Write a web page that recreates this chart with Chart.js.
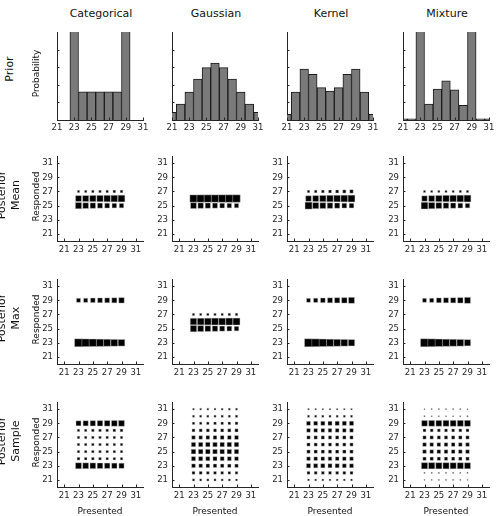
<!DOCTYPE html>
<html>
<head>
<meta charset="utf-8">
<script src="https://cdn.jsdelivr.net/npm/chart.js@4/dist/chart.umd.min.js"></script>
<style>
  body { margin: 0; background: #fff; }
  #fig { position: relative; width: 500px; height: 516px; overflow: hidden; font-family: "DejaVu Sans", sans-serif; color: #111; }
  #fig canvas { position: absolute; }
  .lbl { position: absolute; white-space: nowrap; text-align: center; }
</style>
</head>
<body>
<div id="fig"></div>
<script>
// prior probability over the presented values 21..31
const priorValues = [21, 22, 23, 24, 25, 26, 27, 28, 29, 30, 31];
const priorCategorical = [0, 0, 0.3, 0.08, 0.08, 0.08, 0.08, 0.08, 0.3, 0, 0];
const priorGaussian = [0.022, 0.045, 0.079, 0.116, 0.149, 0.162, 0.149, 0.116, 0.079, 0.045, 0.022];
const priorKernel = [0.016, 0.079, 0.145, 0.13, 0.092, 0.082, 0.092, 0.13, 0.145, 0.079, 0.016];
const priorMixture = [0.003, 0.003, 0.3, 0.045, 0.088, 0.111, 0.086, 0.042, 0.3, 0.003, 0.003];

// response frequencies: rows = responded (31 down to 21), columns = presented 23..29
const presented = [23, 24, 25, 26, 27, 28, 29];
const responded = [31, 30, 29, 28, 27, 26, 25, 24, 23, 22, 21];
const tickValues = [21, 23, 25, 27, 29, 31];

const meanCategorical = [
  [0, 0, 0, 0, 0, 0, 0],
  [0, 0, 0, 0, 0, 0, 0],
  [0, 0, 0, 0, 0, 0, 0],
  [0, 0, 0, 0, 0, 0, 0],
  [0.07, 0.07, 0.08, 0.08, 0.08, 0.09, 0.09],
  [0.44, 0.47, 0.5, 0.52, 0.54, 0.56, 0.58],
  [0.5, 0.42, 0.38, 0.33, 0.3, 0.27, 0.25],
  [0, 0, 0, 0, 0, 0, 0],
  [0, 0, 0, 0, 0, 0, 0],
  [0, 0, 0, 0, 0, 0, 0],
  [0, 0, 0, 0, 0, 0, 0],
];
const meanGaussian = [
  [0, 0, 0, 0, 0, 0, 0],
  [0, 0, 0, 0, 0, 0, 0],
  [0, 0, 0, 0, 0, 0, 0],
  [0, 0, 0, 0, 0, 0, 0],
  [0, 0, 0, 0, 0, 0, 0],
  [0.68, 0.69, 0.7, 0.7, 0.71, 0.72, 0.72],
  [0.44, 0.39, 0.35, 0.33, 0.29, 0.26, 0.24],
  [0, 0, 0, 0, 0, 0, 0],
  [0, 0, 0, 0, 0, 0, 0],
  [0, 0, 0, 0, 0, 0, 0],
  [0, 0, 0, 0, 0, 0, 0],
];
const meanKernel = [
  [0, 0, 0, 0, 0, 0, 0],
  [0, 0, 0, 0, 0, 0, 0],
  [0, 0, 0, 0, 0, 0, 0],
  [0, 0, 0, 0, 0, 0, 0],
  [0.08, 0.09, 0.1, 0.11, 0.12, 0.13, 0.15],
  [0.4, 0.45, 0.5, 0.54, 0.56, 0.58, 0.6],
  [0.62, 0.48, 0.44, 0.39, 0.35, 0.3, 0.28],
  [0, 0, 0, 0, 0, 0, 0],
  [0, 0, 0, 0, 0, 0, 0],
  [0, 0, 0, 0, 0, 0, 0],
  [0, 0, 0, 0, 0, 0, 0],
];
const meanMixture = [
  [0, 0, 0, 0, 0, 0, 0],
  [0, 0, 0, 0, 0, 0, 0],
  [0, 0, 0, 0, 0, 0, 0],
  [0, 0, 0, 0, 0, 0, 0],
  [0.06, 0.06, 0.06, 0.06, 0.06, 0.07, 0.07],
  [0.38, 0.44, 0.5, 0.53, 0.55, 0.57, 0.6],
  [0.58, 0.5, 0.44, 0.39, 0.35, 0.3, 0.26],
  [0, 0, 0, 0, 0, 0, 0],
  [0, 0, 0, 0, 0, 0, 0],
  [0, 0, 0, 0, 0, 0, 0],
  [0, 0, 0, 0, 0, 0, 0],
];
const maxCategorical = [
  [0, 0, 0, 0, 0, 0, 0],
  [0, 0, 0, 0, 0, 0, 0],
  [0.21, 0.22, 0.27, 0.29, 0.3, 0.33, 0.38],
  [0, 0, 0, 0, 0, 0, 0],
  [0, 0, 0, 0, 0, 0, 0],
  [0, 0, 0, 0, 0, 0, 0],
  [0, 0, 0, 0, 0, 0, 0],
  [0, 0, 0, 0, 0, 0, 0],
  [0.8, 0.76, 0.72, 0.68, 0.64, 0.6, 0.56],
  [0, 0, 0, 0, 0, 0, 0],
  [0, 0, 0, 0, 0, 0, 0],
];
const maxGaussian = [
  [0, 0, 0, 0, 0, 0, 0],
  [0, 0, 0, 0, 0, 0, 0],
  [0, 0, 0, 0, 0, 0, 0],
  [0, 0, 0, 0, 0, 0, 0],
  [0.07, 0.07, 0.07, 0.07, 0.07, 0.08, 0.08],
  [0.55, 0.57, 0.58, 0.6, 0.6, 0.62, 0.62],
  [0.52, 0.46, 0.42, 0.38, 0.33, 0.3, 0.26],
  [0, 0, 0, 0, 0, 0, 0],
  [0, 0, 0, 0, 0, 0, 0],
  [0, 0, 0, 0, 0, 0, 0],
  [0, 0, 0, 0, 0, 0, 0],
];
const maxKernel = [
  [0, 0, 0, 0, 0, 0, 0],
  [0, 0, 0, 0, 0, 0, 0],
  [0.2, 0.23, 0.28, 0.32, 0.35, 0.38, 0.45],
  [0, 0, 0, 0, 0, 0, 0],
  [0, 0, 0, 0, 0, 0, 0],
  [0, 0, 0, 0, 0, 0, 0],
  [0, 0, 0, 0, 0, 0, 0],
  [0, 0, 0, 0, 0, 0, 0],
  [0.82, 0.78, 0.72, 0.66, 0.62, 0.58, 0.52],
  [0, 0, 0, 0, 0, 0, 0],
  [0, 0, 0, 0, 0, 0, 0],
];
const maxMixture = [
  [0, 0, 0, 0, 0, 0, 0],
  [0, 0, 0, 0, 0, 0, 0],
  [0.2, 0.22, 0.3, 0.32, 0.34, 0.38, 0.46],
  [0, 0, 0, 0, 0, 0, 0],
  [0, 0, 0, 0, 0, 0, 0],
  [0, 0, 0, 0, 0, 0, 0],
  [0, 0, 0, 0, 0, 0, 0],
  [0, 0, 0, 0, 0, 0, 0],
  [0.82, 0.78, 0.72, 0.66, 0.62, 0.58, 0.5],
  [0, 0, 0, 0, 0, 0, 0],
  [0, 0, 0, 0, 0, 0, 0],
];
const sampleCategorical = [
  [0, 0, 0, 0, 0, 0, 0],
  [0, 0, 0, 0, 0, 0, 0],
  [0.32, 0.34, 0.36, 0.38, 0.4, 0.42, 0.44],
  [0.08, 0.08, 0.09, 0.09, 0.09, 0.1, 0.1],
  [0.08, 0.08, 0.08, 0.08, 0.08, 0.08, 0.08],
  [0.08, 0.08, 0.08, 0.08, 0.08, 0.08, 0.08],
  [0.08, 0.08, 0.08, 0.08, 0.08, 0.08, 0.08],
  [0.1, 0.09, 0.09, 0.09, 0.08, 0.08, 0.08],
  [0.46, 0.44, 0.42, 0.4, 0.38, 0.36, 0.34],
  [0, 0, 0, 0, 0, 0, 0],
  [0, 0, 0, 0, 0, 0, 0],
];
const sampleGaussian = [
  [0.04, 0.04, 0.045, 0.045, 0.045, 0.05, 0.05],
  [0.055, 0.06, 0.06, 0.06, 0.065, 0.065, 0.07],
  [0.08, 0.08, 0.085, 0.09, 0.09, 0.095, 0.1],
  [0.11, 0.115, 0.12, 0.12, 0.125, 0.13, 0.13],
  [0.16, 0.16, 0.17, 0.17, 0.18, 0.18, 0.19],
  [0.24, 0.24, 0.25, 0.25, 0.25, 0.26, 0.26],
  [0.27, 0.27, 0.27, 0.26, 0.26, 0.26, 0.25],
  [0.22, 0.22, 0.21, 0.21, 0.2, 0.2, 0.19],
  [0.18, 0.17, 0.17, 0.16, 0.16, 0.15, 0.15],
  [0.11, 0.11, 0.1, 0.1, 0.1, 0.09, 0.09],
  [0.065, 0.06, 0.06, 0.06, 0.055, 0.055, 0.05],
];
const sampleKernel = [
  [0.03, 0.03, 0.03, 0.03, 0.03, 0.03, 0.03],
  [0.06, 0.06, 0.06, 0.06, 0.06, 0.06, 0.06],
  [0.2, 0.2, 0.21, 0.21, 0.22, 0.22, 0.23],
  [0.17, 0.17, 0.17, 0.17, 0.17, 0.17, 0.17],
  [0.14, 0.14, 0.14, 0.14, 0.14, 0.14, 0.14],
  [0.13, 0.13, 0.13, 0.13, 0.13, 0.13, 0.13],
  [0.14, 0.14, 0.14, 0.14, 0.14, 0.14, 0.14],
  [0.17, 0.17, 0.17, 0.17, 0.17, 0.17, 0.17],
  [0.23, 0.22, 0.22, 0.21, 0.21, 0.2, 0.2],
  [0.11, 0.11, 0.11, 0.11, 0.11, 0.11, 0.11],
  [0.045, 0.045, 0.045, 0.045, 0.045, 0.045, 0.045],
];
const sampleMixture = [
  [0.016, 0.016, 0.016, 0.016, 0.016, 0.016, 0.016],
  [0.02, 0.02, 0.02, 0.02, 0.02, 0.02, 0.02],
  [0.42, 0.44, 0.44, 0.45, 0.45, 0.46, 0.46],
  [0.11, 0.11, 0.11, 0.11, 0.11, 0.11, 0.11],
  [0.14, 0.14, 0.14, 0.14, 0.14, 0.14, 0.14],
  [0.17, 0.17, 0.17, 0.17, 0.17, 0.17, 0.17],
  [0.17, 0.17, 0.17, 0.17, 0.17, 0.17, 0.17],
  [0.14, 0.14, 0.14, 0.14, 0.14, 0.14, 0.14],
  [0.5, 0.5, 0.49, 0.49, 0.48, 0.48, 0.47],
  [0.02, 0.02, 0.02, 0.02, 0.02, 0.02, 0.02],
  [0.016, 0.016, 0.016, 0.016, 0.016, 0.016, 0.016],
];

const models = ['Categorical', 'Gaussian', 'Kernel', 'Mixture'];
const priors = [priorCategorical, priorGaussian, priorKernel, priorMixture];
const posteriorRows = [
  { name: ['Posterior', 'Mean'], data: [meanCategorical, meanGaussian, meanKernel, meanMixture] },
  { name: ['Posterior', 'Max'], data: [maxCategorical, maxGaussian, maxKernel, maxMixture] },
  { name: ['Posterior', 'Sample'], data: [sampleCategorical, sampleGaussian, sampleKernel, sampleMixture] },
];

// layout (plot area corners)
const axLeft = [57, 172, 287, 403];
const axTop = [32, 155, 278, 401];
const axH = [88, 86, 86, 86];
const AX_W = 86, Y_W = 30, X_H = 18, PAD_T = 8, PAD_R = 10;
const INK = '#262626';
const fig = document.getElementById('fig');

function addText(lines, cx, cy, size, rotate, lh) {
  const d = document.createElement('div');
  d.className = 'lbl';
  const w = 200, h = lines.length * lh;
  d.style.cssText = `left:${cx - w / 2}px;top:${cy - h / 2}px;width:${w}px;height:${h}px;` +
    `font-size:${size}px;line-height:${lh}px;` + (rotate ? 'transform:rotate(-90deg);' : '');
  d.innerHTML = lines.join('<br>');
  fig.appendChild(d);
}

// MATLAB style ticks pointing into the plot
const inwardTicks = {
  id: 'inwardTicks',
  afterDraw(chart) {
    const { ctx, chartArea: a, scales: { x, y } } = chart;
    ctx.save();
    ctx.strokeStyle = INK;
    ctx.lineWidth = 1;
    ctx.beginPath();
    x.ticks.forEach(t => {
      const px = Math.round(x.getPixelForValue(t.value)) + 0.5;
      ctx.moveTo(px, a.bottom);
      ctx.lineTo(px, a.bottom - 2.5);
    });
    y.ticks.forEach(t => {
      const py = Math.round(y.getPixelForValue(t.value)) + 0.5;
      ctx.moveTo(a.left, py);
      ctx.lineTo(a.left + 2.5, py);
    });
    ctx.stroke();
    ctx.restore();
  }
};

function axis(min, max, ticks, showLabels, pad, fit) {
  return {
    type: 'linear', min: min, max: max, offset: false,
    grid: { display: false, drawTicks: false, offset: false },
    border: { display: true, color: INK, width: 1 },
    ticks: {
      display: showLabels, padding: pad, color: INK, autoSkip: false, maxRotation: 0,
      font: { family: 'DejaVu Sans', size: 8.5 },
    },
    afterBuildTicks: s => { s.ticks = ticks.map(v => ({ value: v })); },
    afterFit: fit,
  };
}

function makePanel(col, row, config) {
  const canvas = document.createElement('canvas');
  const w = Y_W + AX_W + PAD_R, h = PAD_T + axH[row] + X_H;
  canvas.width = w; canvas.height = h;
  canvas.style.width = w + 'px'; canvas.style.height = h + 'px';
  canvas.style.left = (axLeft[col] - Y_W) + 'px';
  canvas.style.top = (axTop[row] - PAD_T) + 'px';
  fig.appendChild(canvas);
  config.options = Object.assign({
    responsive: false, animation: false, events: [], devicePixelRatio: 1,
    layout: { padding: { left: 0, top: PAD_T, right: PAD_R, bottom: 0 } },
    plugins: { legend: { display: false }, tooltip: { enabled: false } },
  }, config.options);
  config.plugins = [inwardTicks];
  return new Chart(canvas.getContext('2d'), config);
}

const fitX = s => { s.height = X_H; };
const fitY = s => { s.width = Y_W; };

// top row: prior histograms
priors.forEach((prior, c) => {
  makePanel(c, 0, {
    type: 'bar',
    data: {
      datasets: [{
        data: priorValues.map((v, i) => ({ x: v, y: prior[i] })),
        backgroundColor: '#7a7a7a',
        borderColor: '#1c1c1c',
        borderWidth: 1,
        borderSkipped: 'start',
        barPercentage: 1,
        categoryPercentage: 1,
        clip: 0,
      }],
    },
    options: {
      scales: {
        x: axis(21, 31, tickValues, true, 3, fitX),
        y: axis(0, 0.25, [0.05, 0.1, 0.15, 0.2], false, 4, fitY),
      },
    },
  });
});

// posterior rows: square size shows response frequency
const side = p => 8.8 * Math.sqrt(p);
posteriorRows.forEach((r, ri) => {
  r.data.forEach((m, c) => {
    const pts = [];
    responded.forEach((yv, i) => {
      presented.forEach((xv, j) => {
        if (m[i][j] > 0) pts.push({ x: xv, y: yv, p: m[i][j] });
      });
    });
    makePanel(c, ri + 1, {
      type: 'scatter',
      data: {
        datasets: [{
          data: pts,
          pointStyle: 'rect',
          backgroundColor: '#000',
          borderColor: 'rgba(200,200,200,0.8)',
          borderWidth: 0.5,
          pointRadius: ctx => side(ctx.raw.p) / Math.SQRT2,
        }],
      },
      options: {
        scales: {
          x: axis(20, 32, tickValues, true, 4, fitX),
          y: axis(20, 32, tickValues, true, 4, fitY),
        },
      },
    });
  });
});

// text: column titles, row names, axis titles
models.forEach((m, c) => addText([m], axLeft[c] + 44, 14, 11, false, 14));
addText(['Prior'], 9.5, 69, 11, true, 14);
addText(['Probability'], 35.5, 73, 9, true, 11);
posteriorRows.forEach((r, ri) => {
  const cy = axTop[ri + 1] + 43;
  addText(r.name, 8.5, cy - 3, 11, true, 14);
  addText(['Responded'], 36, cy - 1.5, 9, true, 11);
});
axLeft.forEach(l => addText(['Presented'], l + 43, 511, 9, false, 11));
</script>
</body>
</html>
